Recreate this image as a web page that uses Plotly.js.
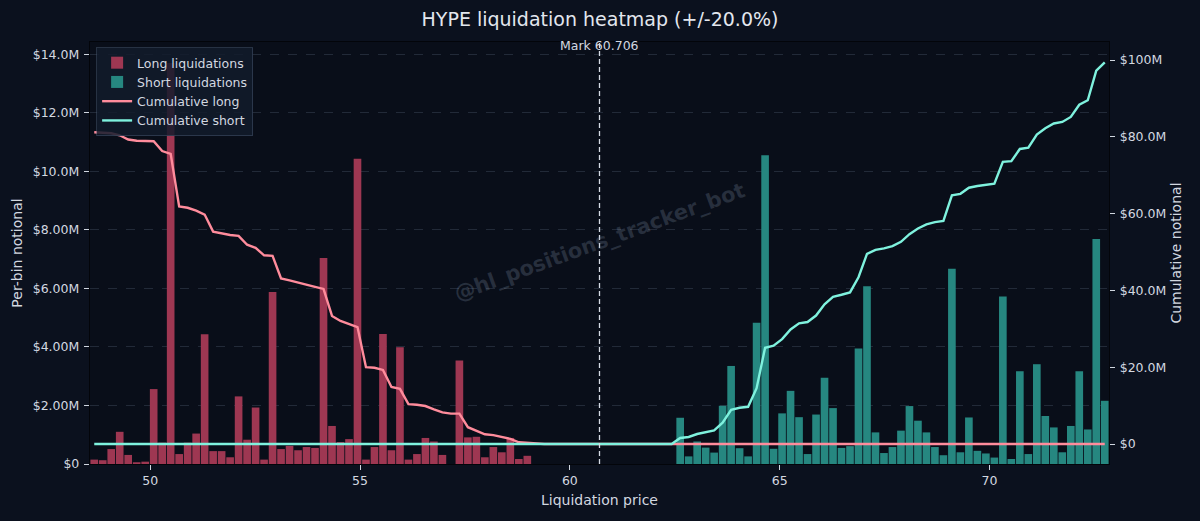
<!DOCTYPE html>
<html><head><meta charset="utf-8">
<script src="https://cdn.plot.ly/plotly-3.0.1.min.js"></script>
<style>html,body{margin:0;padding:0;background:#0b111e;}#chart{width:1200px;height:521px;}</style>
</head><body><div id="chart"></div>
<script>
// ---- data ----
const symbol = 'HYPE';
const markPrice = 60.706;
const rangePct = 20.0;
const binCount = 120;
// Long liquidations per bin ($M), the 60 bins below the mark price (low -> high)
const longLiqM = [
  0.15, 0.13, 0.51, 1.10, 0.31, 0.06, 0.08, 2.56, 0.73, 13.70,
  0.34, 0.73, 1.04, 4.43, 0.44, 0.44, 0.23, 2.31, 0.83, 1.93,
  0.15, 5.88, 0.51, 0.62, 0.47, 0.58, 0.55, 7.04, 1.30, 0.75,
  0.85, 10.43, 0.15, 0.58, 4.44, 0.47, 3.99, 0.15, 0.34, 0.89,
  0.77, 0.31, 0.00, 3.54, 0.91, 0.93, 0.23, 0.58, 0.40, 0.89,
  0.17, 0.28, 0.00, 0.00, 0.00, 0.00, 0.00, 0.00, 0.00, 0.00
];
// Short liquidations per bin ($M), the 60 bins above the mark price (low -> high)
const shortLiqM = [
  0.00, 0.00, 0.00, 0.00, 0.00, 0.00, 0.00, 0.00, 0.00, 1.58,
  0.26, 0.77, 0.56, 0.39, 1.99, 3.35, 0.54, 0.26, 4.83, 10.55,
  0.52, 1.73, 2.50, 1.60, 0.34, 1.69, 2.95, 1.91, 0.55, 0.61,
  3.95, 6.07, 1.08, 0.375, 0.58, 1.14, 1.98, 1.48, 1.08, 0.58,
  0.30, 6.67, 0.40, 1.59, 0.45, 0.36, 0.22, 5.72, 0.17, 3.17,
  0.34, 3.41, 1.64, 1.25, 0.40, 1.30, 3.17, 1.18, 7.69, 2.16
];
const xTickVals = [50, 55, 60, 65, 70];
const leftTickVals = [0, 2e6, 4e6, 6e6, 8e6, 10e6, 12e6, 14e6];
const leftTickText = ['$0', '$2.00M', '$4.00M', '$6.00M', '$8.00M', '$10.0M', '$12.0M', '$14.0M'];
const rightTickVals = [0, 20e6, 40e6, 60e6, 80e6, 100e6];
const rightTickText = ['$0', '$20.0M', '$40.0M', '$60.0M', '$80.0M', '$100M'];

// ---- derived ----
const lo = markPrice * (1 - rangePct / 100);
const hi = markPrice * (1 + rangePct / 100);
const bw = (hi - lo) / binCount;
const centers = [];
for (let k = 0; k < binCount; k++) centers.push(lo + (k + 0.5) * bw);
const zeros = new Array(binCount / 2).fill(0);
const longFull = longLiqM.concat(zeros).map(v => v * 1e6);
const shortFull = zeros.concat(shortLiqM).map(v => v * 1e6);
const cumLong = new Array(binCount).fill(0);
let acc = 0;
for (let k = binCount - 1; k >= 0; k--) { acc += longFull[k]; cumLong[k] = acc; }
const cumShort = new Array(binCount).fill(0);
acc = 0;
for (let k = 0; k < binCount; k++) { acc += shortFull[k]; cumShort[k] = acc; }

const font = 'DejaVu Sans, sans-serif';
const txt = '#d3d8e0';
const barW = new Array(binCount).fill(bw * 0.9);

const traces = [
  {type: 'bar', name: 'Long liquidations', x: centers, y: longFull, width: barW,
   marker: {color: '#9e3752', line: {width: 0}}, yaxis: 'y'},
  {type: 'bar', name: 'Short liquidations', x: centers, y: shortFull, width: barW,
   marker: {color: '#268780', line: {width: 0}}, yaxis: 'y'},
  {type: 'scatter', mode: 'lines', name: 'Cumulative long', x: centers, y: cumLong,
   line: {color: '#ff8c9c', width: 2.4}, yaxis: 'y2'},
  {type: 'scatter', mode: 'lines', name: 'Cumulative short', x: centers, y: cumShort,
   line: {color: '#7ff2de', width: 2.4}, yaxis: 'y2'}
];

const layout = {
  width: 1200, height: 521,
  paper_bgcolor: '#0b111e', plot_bgcolor: '#090e19',
  font: {family: font, color: txt, size: 12.5},
  margin: {l: 90, r: 91, t: 42, b: 57, pad: 0},
  barmode: 'overlay',
  showlegend: true,
  title: {text: symbol + ' liquidation heatmap (+/-' + rangePct.toFixed(1) + '%)',
          font: {family: font, size: 19, color: '#e3e7ee'}, x: 0.5, xanchor: 'center',
          y: 1 - 19 / 521, yanchor: 'middle'},
  xaxis: {range: [lo, hi], tickvals: xTickVals, ticks: 'outside', ticklen: 5, tickwidth: 1,
          tickcolor: '#d0d6df', showgrid: false, zeroline: false,
          showline: true, linecolor: '#03050a', linewidth: 1.2, mirror: true,
          tickfont: {size: 12.5, color: txt},
          title: {text: 'Liquidation price', font: {size: 14, color: txt}, standoff: 8}},
  yaxis: {range: [0, 14.42e6], tickvals: leftTickVals, ticktext: leftTickText,
          ticks: 'outside', ticklen: 5, tickcolor: '#d0d6df', zeroline: false,
          ticklabelstandoff: 2,
          showgrid: true, gridcolor: 'rgba(110,125,150,0.32)', griddash: 'dash', gridwidth: 0.8,
          showline: true, linecolor: '#03050a', linewidth: 1.2,
          tickfont: {size: 12.5, color: txt},
          title: {text: 'Per-bin notional', font: {size: 14, color: txt}, standoff: 6}},
  yaxis2: {range: [-5.2e6, 104.7e6], tickvals: rightTickVals, ticktext: rightTickText,
           overlaying: 'y', side: 'right', ticks: 'outside', ticklen: 5, tickcolor: '#d0d6df',
           ticklabelstandoff: 2,
           showgrid: false, zeroline: false, showline: true, linecolor: '#03050a', linewidth: 1.2,
           tickfont: {size: 12.5, color: txt},
           title: {text: 'Cumulative notional', font: {size: 14, color: txt}, standoff: 6}},
  legend: {x: 0.006, y: 0.988, xanchor: 'left', yanchor: 'top',
           bgcolor: 'rgba(18,27,43,0.85)', bordercolor: 'rgba(70,85,110,0.5)', borderwidth: 1,
           font: {size: 12.5, color: txt}, tracegroupgap: 0, itemwidth: 30},
  shapes: [{type: 'line', xref: 'x', yref: 'paper', x0: markPrice, x1: markPrice, y0: 0, y1: 1,
            line: {color: '#d5dbe4', width: 1.3, dash: '5px,3px'}}],
  annotations: [
    {text: 'Mark ' + markPrice.toFixed(3), xref: 'x', yref: 'paper', x: markPrice, y: 1 - 4 / 422,
     xanchor: 'center', yanchor: 'middle', showarrow: false, font: {size: 12.5, color: txt}},
    {text: '<b>@hl_positions_tracker_bot</b>', xref: 'paper', yref: 'paper', x: 0.5, y: 0.525,
     xanchor: 'center', yanchor: 'middle', showarrow: false, textangle: -20,
     font: {size: 21, color: 'rgba(150,165,190,0.22)'}}
  ]
};

Plotly.newPlot('chart', traces, layout, {staticPlot: true, displayModeBar: false});
</script>
</body></html>
